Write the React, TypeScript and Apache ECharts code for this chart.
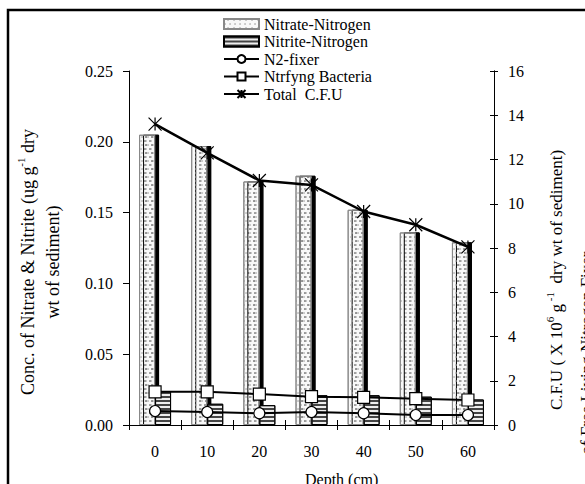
import React, { useEffect, useRef } from "react";
import * as echarts from "echarts";

const categories = ["0", "10", "20", "30", "40", "50", "60"];
const nitrate = [0.205, 0.197, 0.172, 0.176, 0.152, 0.136, 0.129];
const nitrite = [0.024, 0.015, 0.014, 0.021, 0.021, 0.02, 0.018];
const n2Fixer = [0.63, 0.59, 0.53, 0.59, 0.53, 0.45, 0.45];
const ntrfyng = [1.5, 1.5, 1.4, 1.28, 1.25, 1.19, 1.13];
const totalCFU = [13.6, 12.3, 11.05, 10.85, 9.65, 9.05, 8.05];
const leftTicks = { min: 0, max: 0.25, interval: 0.05 };
const rightTicks = { min: 0, max: 16, interval: 2 };

const FONT = "Liberation Serif";
const STAR = "path://M0,0L10,10M10,0L0,10M5,0L5,10";

export default function App() {
  const ref = useRef<HTMLDivElement>(null);
  useEffect(() => {
    if (!ref.current) return;
    const chart = echarts.init(ref.current, undefined, { renderer: "svg" });
    const axLine = { show: true, lineStyle: { color: "#000", width: 1 } };
    chart.setOption({
      animation: false,
      backgroundColor: "#fff",
      grid: { left: 129, right: 91, top: 71, bottom: 59 },
      legend: {
        orient: "vertical",
        left: 218,
        top: 11,
        itemWidth: 35,
        itemHeight: 10,
        itemGap: 1.5,
        textStyle: { fontFamily: FONT, fontSize: 16, color: "#000" },
        data: [
          { name: "Nitrate-Nitrogen", icon: "rect" },
          { name: "Nitrite-Nitrogen", icon: "rect" },
          { name: "N2-fixer" },
          { name: "Ntrfyng Bacteria" },
          { name: "Total  C.F.U" },
        ],
      },
      xAxis: [
        {
          type: "category",
          data: categories,
          boundaryGap: true,
          axisLine: axLine,
          axisTick: { show: true, alignWithLabel: false, length: 5, lineStyle: { color: "#000" } },
          axisLabel: { fontFamily: FONT, fontSize: 16, color: "#000", margin: 18 },
          splitLine: { show: false },
        },
        {
          type: "category",
          data: categories,
          position: "bottom",
          boundaryGap: true,
          axisLine: axLine,
          axisTick: { show: true, inside: true, alignWithLabel: false, length: 5, lineStyle: { color: "#000" } },
          axisLabel: { show: false },
          splitLine: { show: false },
        },
      ],
      yAxis: [
        {
          type: "value",
          position: "left",
          ...leftTicks,
          axisLine: axLine,
          axisTick: { show: true, length: 6, lineStyle: { color: "#000" } },
          axisLabel: { fontFamily: FONT, fontSize: 16, color: "#000", margin: 16, formatter: (v: number) => v.toFixed(2) },
          splitLine: { show: false },
        },
        {
          type: "value",
          position: "right",
          ...rightTicks,
          axisLine: axLine,
          axisTick: { show: true, length: 4, lineStyle: { color: "#000" } },
          axisLabel: { fontFamily: FONT, fontSize: 16, color: "#000", margin: 14 },
          splitLine: { show: false },
        },
        {
          type: "value",
          position: "right",
          ...rightTicks,
          axisLine: axLine,
          axisTick: { show: true, inside: true, length: 4, lineStyle: { color: "#000" } },
          axisLabel: { show: false },
          splitLine: { show: false },
        },
      ],
      series: [
        {
          name: "Nitrate-Nitrogen",
          type: "bar",
          data: nitrate,
          barWidth: 16,
          barGap: "0%",
          itemStyle: {
            color: "#f8f8f8",
            borderColor: "#888",
            borderWidth: 1,
            shadowColor: "#000",
            shadowOffsetX: 4,
            shadowOffsetY: 0,
            shadowBlur: 0,
            decal: {
              symbol: "circle",
              symbolSize: 0.7,
              color: "#888",
              dashArrayX: [[2, 3], [0, 2.5, 2, 0.5]],
              dashArrayY: [2, 1.5],
            },
          },
        },
        {
          name: "Nitrite-Nitrogen",
          type: "bar",
          data: nitrite,
          barWidth: 16,
          barGap: "0%",
          itemStyle: {
            color: "#eeeeee",
            borderColor: "#000",
            borderWidth: 1,
            decal: {
              symbol: "rect",
              symbolSize: 1,
              color: "#444",
              dashArrayX: [[8, 0]],
              dashArrayY: [1.5, 1.5],
            },
          },
        },
        {
          name: "N2-fixer",
          type: "line",
          yAxisIndex: 1,
          data: n2Fixer,
          symbol: "circle",
          symbolSize: 11,
          lineStyle: { color: "#000", width: 2 },
          itemStyle: { color: "#fff", borderColor: "#000", borderWidth: 1.2 },
        },
        {
          name: "Ntrfyng Bacteria",
          type: "line",
          yAxisIndex: 1,
          data: ntrfyng,
          symbol: "rect",
          symbolSize: 12,
          lineStyle: { color: "#000", width: 2 },
          itemStyle: { color: "#fff", borderColor: "#000", borderWidth: 1.2 },
        },
        {
          name: "Total  C.F.U",
          type: "line",
          yAxisIndex: 1,
          data: totalCFU,
          symbol: STAR,
          symbolSize: 13,
          lineStyle: { color: "#000", width: 2.5 },
          itemStyle: { color: "#fff", borderColor: "#000", borderWidth: 1.2 },
        },
      ],
      graphic: [
        {
          type: "rect",
          shape: { x: 8, y: 10, width: 700, height: 600 },
          style: { fill: "none", stroke: "#000", lineWidth: 2.5 },
          silent: true,
        },
        {
          type: "text",
          x: 40,
          y: 262,
          rotation: Math.PI / 2,
          style: {
            text: "{n|Conc. of Nitrate & Nitrite (ug g}{s|-1}{n| dry}\n{n|wt of sediment)}",
            align: "center",
            verticalAlign: "middle",
            fill: "#000",
            rich: {
              n: { fontFamily: FONT, fontSize: 18, lineHeight: 25, verticalAlign: "middle" },
              s: { fontFamily: FONT, fontSize: 11, lineHeight: 25, verticalAlign: "top" },
            },
          },
        },
        {
          type: "text",
          x: 556,
          y: 280,
          rotation: Math.PI / 2,
          style: {
            text: "{n|C.F.U ( X 10}{s|6}{n| g}{s| -1}{n|  dry wt of sediment)}",
            align: "center",
            verticalAlign: "middle",
            fill: "#000",
            rich: {
              n: { fontFamily: FONT, fontSize: 17, lineHeight: 24, verticalAlign: "middle" },
              s: { fontFamily: FONT, fontSize: 11, lineHeight: 24, verticalAlign: "top" },
            },
          },
        },
        {
          type: "text",
          x: 586,
          y: 353,
          rotation: Math.PI / 2,
          style: {
            text: "of Free Living Nitrogen Fixer",
            align: "center",
            verticalAlign: "middle",
            fill: "#000",
            fontFamily: FONT,
            fontSize: 17,
          },
        },
        {
          type: "text",
          x: 305,
          y: 471,
          style: {
            text: "Depth (cm)",
            align: "left",
            verticalAlign: "top",
            fill: "#000",
            fontFamily: FONT,
            fontSize: 16,
          },
        },
      ],
    });
    return () => chart.dispose();
  }, []);
  return (
    <div
      ref={ref}
      style={{ position: "fixed", left: 0, top: 0, width: 585, height: 484 }}
    />
  );
}
